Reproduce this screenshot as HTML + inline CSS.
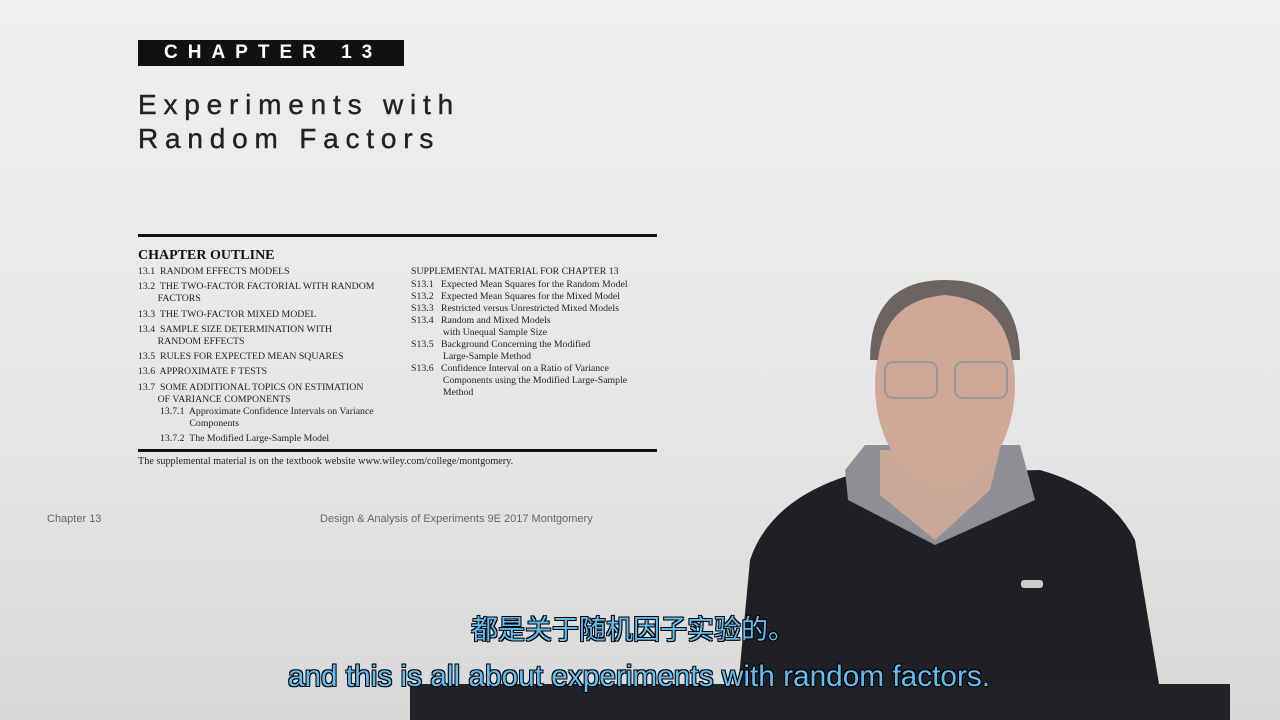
<!DOCTYPE html>
<html><head><meta charset="utf-8"><style>
body{margin:0;width:1280px;height:720px;overflow:hidden;background:linear-gradient(#efefef,#e6e6e6 60%,#d8d8d8);position:relative;font-family:"Liberation Sans",sans-serif}
.a{position:absolute;white-space:nowrap}
.s{font-family:"Liberation Serif",serif;font-size:9.8px;color:#222;line-height:12px}
.sub{font-family:"Liberation Sans","Noto Sans CJK SC",sans-serif;color:#62bdf5;text-shadow:0 0 1px #000,1px 1px 0 #000,-1px -1px 0 #000,1px -1px 0 #000,-1px 1px 0 #000}
</style></head><body>
<div class="a" style="left:138px;top:40px;width:266px;height:26px;background:#111;color:#fff;font-size:19px;font-weight:bold;letter-spacing:10px;line-height:26px;text-indent:26px">CHAPTER 13</div>
<div class="a" style="left:138px;top:88px;font-size:28px;letter-spacing:6.8px;line-height:34px;color:#222;-webkit-text-stroke:0.4px #222">Experiments with<br>Random Factors</div>
<div class="a" style="left:138px;top:234px;width:519px;height:3px;background:#111"></div>
<div class="a" style="left:138px;top:248px;font-family:'Liberation Serif',serif;font-weight:bold;font-size:14px;color:#111">CHAPTER OUTLINE</div>
<div class="a s" style="left:138px;top:266px;line-height:12.2px">
13.1&nbsp; RANDOM EFFECTS MODELS<br>
<div style="height:3px"></div>13.2&nbsp; THE TWO-FACTOR FACTORIAL WITH RANDOM<br>&nbsp;&nbsp;&nbsp;&nbsp;&nbsp;&nbsp;&nbsp;&nbsp;FACTORS<br>
<div style="height:3px"></div>13.3&nbsp; THE TWO-FACTOR MIXED MODEL<br>
<div style="height:3px"></div>13.4&nbsp; SAMPLE SIZE DETERMINATION WITH<br>&nbsp;&nbsp;&nbsp;&nbsp;&nbsp;&nbsp;&nbsp;&nbsp;RANDOM EFFECTS<br>
<div style="height:3px"></div>13.5&nbsp; RULES FOR EXPECTED MEAN SQUARES<br>
<div style="height:3px"></div>13.6&nbsp; APPROXIMATE F TESTS<br>
<div style="height:3px"></div>13.7&nbsp; SOME ADDITIONAL TOPICS ON ESTIMATION<br>&nbsp;&nbsp;&nbsp;&nbsp;&nbsp;&nbsp;&nbsp;&nbsp;OF VARIANCE COMPONENTS<br>
<div style="padding-left:22px">13.7.1&nbsp; Approximate Confidence Intervals on Variance<br>&nbsp;&nbsp;&nbsp;&nbsp;&nbsp;&nbsp;&nbsp;&nbsp;&nbsp;&nbsp;&nbsp;&nbsp;Components<div style="height:3px"></div>13.7.2&nbsp; The Modified Large-Sample Model</div>
</div>
<div class="a s" style="left:411px;top:266px">
SUPPLEMENTAL MATERIAL FOR CHAPTER 13<br>
<div style="height:1px"></div>S13.1&nbsp;&nbsp; Expected Mean Squares for the Random Model<br>
S13.2&nbsp;&nbsp; Expected Mean Squares for the Mixed Model<br>
S13.3&nbsp;&nbsp; Restricted versus Unrestricted Mixed Models<br>
S13.4&nbsp;&nbsp; Random and Mixed Models<br>&nbsp;&nbsp;&nbsp;&nbsp;&nbsp;&nbsp;&nbsp;&nbsp;&nbsp;&nbsp;&nbsp;&nbsp;&nbsp;with Unequal Sample Size<br>
S13.5&nbsp;&nbsp; Background Concerning the Modified<br>&nbsp;&nbsp;&nbsp;&nbsp;&nbsp;&nbsp;&nbsp;&nbsp;&nbsp;&nbsp;&nbsp;&nbsp;&nbsp;Large-Sample Method<br>
S13.6&nbsp;&nbsp; Confidence Interval on a Ratio of Variance<br>&nbsp;&nbsp;&nbsp;&nbsp;&nbsp;&nbsp;&nbsp;&nbsp;&nbsp;&nbsp;&nbsp;&nbsp;&nbsp;Components using the Modified Large-Sample<br>&nbsp;&nbsp;&nbsp;&nbsp;&nbsp;&nbsp;&nbsp;&nbsp;&nbsp;&nbsp;&nbsp;&nbsp;&nbsp;Method
</div>
<div class="a" style="left:138px;top:449px;width:519px;height:3px;background:#111"></div>
<div class="a s" style="left:138px;top:456px;font-size:10.2px">The supplemental material is on the textbook website www.wiley.com/college/montgomery.</div>
<div class="a" style="left:47px;top:513px;font-size:11px;color:#666">Chapter 13</div>
<div class="a" style="left:320px;top:513px;font-size:11px;color:#666">Design &amp; Analysis of Experiments 9E 2017 Montgomery</div>
<svg class="a" style="left:0;top:0" width="1280" height="720">
<path d="M735 720 L750 560 Q770 500 850 475 L1040 470 Q1110 490 1135 540 L1165 720 Z" fill="#1e2024"/>
<path d="M845 470 L865 445 L1020 445 L1035 500 L935 545 L848 500 Z" fill="#8d8f94"/>
<path d="M880 450 L1000 450 L990 490 L935 540 L880 495 Z" fill="#c9a898"/>
<ellipse cx="945" cy="385" rx="70" ry="102" fill="#cfa898"/>
<path d="M870 360 Q870 280 945 280 Q1020 280 1020 360 L1012 360 Q1005 300 945 295 Q885 300 878 360 Z" fill="#6b6460"/>
<rect x="885" y="362" width="52" height="36" rx="8" fill="none" stroke="#999" stroke-width="2"/>
<rect x="955" y="362" width="52" height="36" rx="8" fill="none" stroke="#999" stroke-width="2"/>
<rect x="1021" y="580" width="22" height="8" rx="3" fill="#ccc"/>
<rect x="410" y="684" width="820" height="36" fill="#202226"/>
</svg>
<div class="a sub" style="left:0;width:1266px;text-align:center;top:608px;font-size:27px">都是关于随机因子实验的。</div>
<div class="a sub" style="left:0;width:1278px;text-align:center;top:660px;font-size:29.8px">and this is all about experiments with random factors.</div>
</body></html>
